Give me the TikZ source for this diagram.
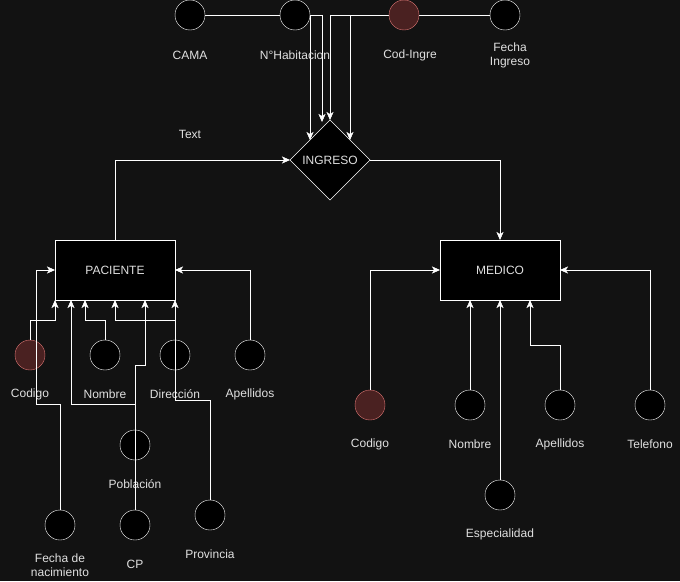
\documentclass[tikz,border=0pt]{standalone}
\usepackage{fontspec}
\setmainfont{Liberation Sans}
\usetikzlibrary{arrows.meta,shapes.geometric}
\definecolor{fondo}{RGB}{18,18,18}
\definecolor{texto}{RGB}{224,224,224}
\definecolor{clavefill}{RGB}{74,33,33}
\definecolor{clavedraw}{RGB}{222,118,116}
\pgfdeclarelayer{base}
\pgfdeclarelayer{detras}
\pgfsetlayers{base,detras,main}
\begin{document}
\begin{tikzpicture}[x=1pt,y=-1pt,line width=1pt,
    font=\fontsize{12}{14}\selectfont,
    entidad/.style={draw=white,fill=black,text=texto,minimum width=120pt,minimum height=60pt,inner sep=0pt,outer sep=0pt},
    relacion/.style={diamond,draw=white,fill=black,text=texto,minimum width=80pt,minimum height=80pt,inner sep=0pt,outer sep=0pt},
    atrib/.style={circle,draw=white,fill=black,minimum size=30pt,inner sep=0pt,outer sep=0pt},
    clave/.style={atrib,draw=clavedraw,fill=clavefill},
    etiq/.style={text=texto,align=center,inner sep=0pt},
    linea/.style={draw=white,-{Stealth[length=8pt,width=7pt,inset=2pt]}}]
    \begin{pgfonlayer}{base}
        \fill[fondo] (0,0) rectangle (680,581);
    \end{pgfonlayer}
    \useasboundingbox (0,0) rectangle (680,581);
    %% Entidades y relacion
    \node[entidad] (paciente) at (115,270) {PACIENTE};
    \node[entidad] (medico) at (500,270) {MEDICO};
    \node[relacion] (ingreso) at (330,160) {INGRESO};
    \node[etiq] (txt) at (190,134) {Text};
    %% Atributos de INGRESO
    \node[atrib] (cama) at (190,15) {};
    \node[atrib] (nhab) at (295,15) {};
    \node[clave] (codingre) at (404,15) {};
    \node[atrib] (fechaing) at (505,15) {};
    \node[etiq] (cama-t) at (190,55) {CAMA};
    \node[etiq] (nhab-t) at (295,55) {N°Habitacion};
    \node[etiq] (codingre-t) at (410,55) {Cod-Ingre};
    \node[etiq] (fechaing-t) at (510,55) {Fecha\\Ingreso};
    %% Atributos de PACIENTE
    \node[clave] (pcod) at (30,355) {};
    \node[atrib] (pnom) at (105,355) {};
    \node[atrib] (pdir) at (175,355) {};
    \node[atrib] (pape) at (250,355) {};
    \node[atrib] (ppob) at (135,445) {};
    \node[atrib] (pfnac) at (60,525) {};
    \node[atrib] (pcp) at (135,525) {};
    \node[atrib] (pprov) at (210,515) {};
    \node[etiq] (pcod-t) at (30,394) {Codigo};
    \node[etiq] (pnom-t) at (105,394) {Nombre};
    \node[etiq] (pdir-t) at (175,394) {Dirección};
    \node[etiq] (pape-t) at (250,394) {Apellidos};
    \node[etiq] (ppob-t) at (135,484) {Población};
    \node[etiq] (pfnac-t) at (60,565) {Fecha de\\nacimiento};
    \node[etiq] (pcp-t) at (135,564) {CP};
    \node[etiq] (pprov-t) at (210,554) {Provincia};
    %% Atributos de MEDICO
    \node[clave] (mcod) at (370,405) {};
    \node[atrib] (mnom) at (470,405) {};
    \node[atrib] (mape) at (560,405) {};
    \node[atrib] (mtel) at (650,405) {};
    \node[atrib] (mesp) at (500,495) {};
    \node[etiq] (mcod-t) at (370,444) {Codigo};
    \node[etiq] (mnom-t) at (470,444) {Nombre};
    \node[etiq] (mape-t) at (560,444) {Apellidos};
    \node[etiq] (mtel-t) at (650,444) {Telefono};
    \node[etiq] (mesp-t) at (500,534) {Especialidad};
    %% Conexiones de INGRESO (por detras de los circulos)
    \begin{pgfonlayer}{detras}
        \draw[linea] (cama.east) -| (ingreso.north west);
        \draw[linea] (nhab.east) -| ([xshift=-8pt,yshift=-2pt]ingreso.north);
        \draw[linea] (fechaing.west) -| (ingreso.north);
        \draw[linea] (codingre.west) -| (ingreso.north east);
    \end{pgfonlayer}
    \draw[linea] (paciente.north) |- (ingreso.west);
    \draw[linea] (ingreso.east) -| (medico.north);
    %% Conexiones de PACIENTE
    \draw[linea] (pcod.north) -- ++(0,-20) -| (paciente.south west);
    \draw[linea] (pnom.north) -- ++(0,-20) -| ([xshift=30pt]paciente.south west);
    \draw[linea] (pdir.north) -- ++(0,-20) -| (paciente.south);
    \draw[linea] (pape.north) |- (paciente.east);
    \draw[linea] (ppob.north) -- ++(0,-65) -| ([xshift=30pt]paciente.south);
    \draw[linea] (pcp.north) -- ++(0,-106) -| ([xshift=16pt]paciente.south west);
    \draw[linea] (pfnac.north) -- ++(0,-106) -- ++(-24,0) |- (paciente.west);
    \draw[linea] (pprov.north) -- ++(0,-100) -| (paciente.south east);
    %% Conexiones de MEDICO
    \draw[linea] (mcod.north) |- (medico.west);
    \draw[linea] (mnom.north) -- (mnom.north |- medico.south);
    \draw[linea] (mesp.north) -- (medico.south);
    \draw[linea] (mape.north) -- ++(0,-45) -| ([xshift=-30pt]medico.south east);
    \draw[linea] (mtel.north) |- (medico.east);
\end{tikzpicture}
\end{document}
